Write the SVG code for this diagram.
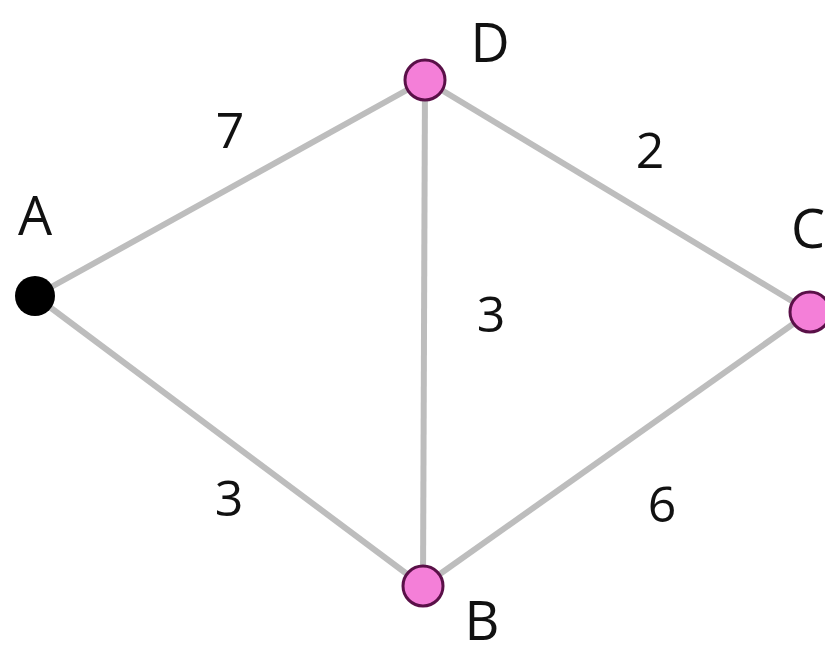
<svg xmlns="http://www.w3.org/2000/svg" width="825" height="649" viewBox="0 0 825 649">
<style>
.e{stroke:#bdbdbd;stroke-width:6;fill:none}
.n{fill:#f47fd8;stroke:#5a1048;stroke-width:3}
.t{font-family:"Open Sans","Liberation Sans",sans-serif;fill:#111}
.nl{font-size:54px}
.el{font-size:50px}
</style>
<rect width="825" height="649" fill="#fff"/>
<g id="connectors">
<line class="e" x1="35" y1="296" x2="425" y2="80"/>
<line class="e" x1="35" y1="296" x2="423" y2="586"/>
<line class="e" x1="425" y1="80" x2="423" y2="586"/>
<line class="e" x1="425" y1="80" x2="810" y2="312"/>
<line class="e" x1="423" y1="586" x2="810" y2="312"/>
<text class="t el" x="230" y="148" text-anchor="middle">7</text>
<text class="t el" x="650" y="168" text-anchor="middle">2</text>
<text class="t el" x="491" y="332" text-anchor="middle">3</text>
<text class="t el" x="229" y="516" text-anchor="middle">3</text>
<text class="t el" x="662" y="522" text-anchor="middle">6</text>
</g>
<g id="A"><circle cx="35" cy="296" r="20" fill="#000"/><text class="t nl" x="35" y="235" text-anchor="middle">A</text></g>
<g id="D"><circle class="n" cx="425" cy="80" r="20"/><text class="t nl" x="490" y="62" text-anchor="middle">D</text></g>
<g id="C"><circle class="n" cx="810" cy="312" r="20"/><text class="t nl" x="808" y="248" text-anchor="middle">C</text></g>
<g id="B"><circle class="n" cx="423" cy="586" r="20"/><text class="t nl" x="482" y="640" text-anchor="middle">B</text></g>
</svg>
